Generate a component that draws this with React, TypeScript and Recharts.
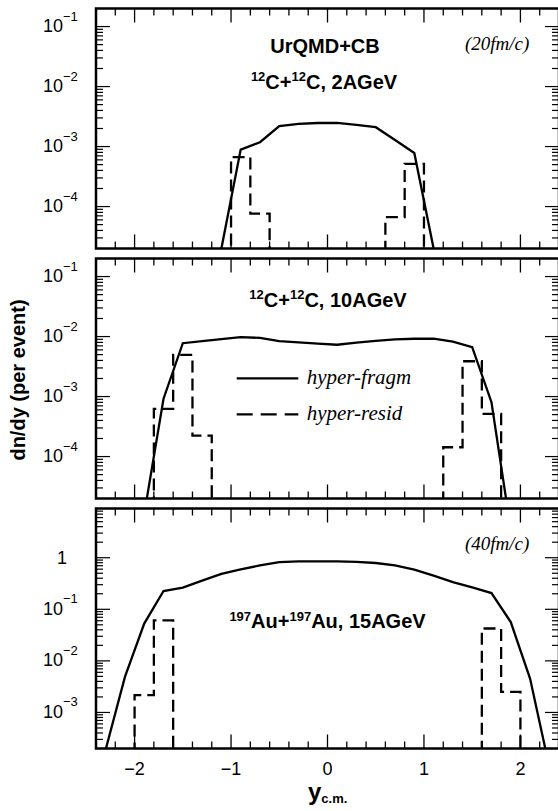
import React from 'react';
import { ComposedChart, Line, XAxis, YAxis } from 'recharts';

// ---------- data ----------
// rapidity bin centres (solid curves) and bin edges (dashed histograms)
const binCenters = [-2.3, -2.1, -1.9, -1.7, -1.5, -1.3, -1.1, -0.9, -0.7, -0.5, -0.3, -0.1, 0.1, 0.3, 0.5, 0.7, 0.9, 1.1, 1.3, 1.5, 1.7, 1.9, 2.1, 2.3];
const binEdges = [-2.4, -2.2, -2.0, -1.8, -1.6, -1.4, -1.2, -1.0, -0.8, -0.6, -0.4, -0.2, 0, 0.2, 0.4, 0.6, 0.8, 1.0, 1.2, 1.4, 1.6, 1.8, 2.0, 2.2, 2.4];

// 12C+12C, 2 AGeV (20 fm/c)
const fragmC2 = [0, 0, 0, 0, 0, 0, 2e-5, 8.9e-4, 1.18e-3, 2.2e-3, 2.39e-3, 2.47e-3, 2.49e-3, 2.29e-3, 2.1e-3, 1.29e-3, 7.8e-4, 2e-5, 0, 0, 0, 0, 0, 0];
const residC2 = [0, 0, 0, 0, 0, 0, 0, 6.65e-4, 7.6e-5, 0, 0, 0, 0, 0, 0, 6.65e-5, 5.15e-4, 0, 0, 0, 0, 0, 0, 0];

// 12C+12C, 10 AGeV
const fragmC10 = [0, 0, 1.1e-5, 9.2e-4, 7.75e-3, 8.4e-3, 9.1e-3, 9.75e-3, 9.5e-3, 8.4e-3, 8.0e-3, 7.6e-3, 7.3e-3, 7.9e-3, 8.5e-3, 9.0e-3, 9.2e-3, 9.2e-3, 8.2e-3, 6.65e-3, 8.05e-4, 6e-6, 0, 0];
const residC10 = [0, 0, 0, 6.25e-4, 4.97e-3, 2.24e-4, 0, 0, 0, 0, 0, 0, 0, 0, 0, 0, 0, 0, 1.43e-4, 3.88e-3, 5.16e-4, 0, 0, 0];

// 197Au+197Au, 15 AGeV (40 fm/c)
const fragmAu15 = [1.9e-4, 4.9e-3, 0.0528, 0.226, 0.263, 0.36, 0.486, 0.594, 0.71, 0.82, 0.85, 0.85, 0.85, 0.83, 0.79, 0.71, 0.59, 0.45, 0.337, 0.266, 0.206, 0.0567, 4.55e-3, 8.7e-5];
const residAu15 = [0, 0, 2.16e-3, 0.061, 0, 0, 0, 0, 0, 0, 0, 0, 0, 0, 0, 0, 0, 0, 0, 0, 0.0424, 2.5e-3, 0, 0];

// axis ticks
const xTicks = [-2.2, -2.0, -1.8, -1.6, -1.4, -1.2, -1.0, -0.8, -0.6, -0.4, -0.2, 0, 0.2, 0.4, 0.6, 0.8, 1.0, 1.2, 1.4, 1.6, 1.8, 2.0, 2.2];
const decadesC = [1e-5, 1e-4, 1e-3, 1e-2, 1e-1];
const decadesAu = [1e-4, 1e-3, 1e-2, 1e-1, 1];
const minorMultipliers = [1, 2, 3, 4, 5, 6, 7, 8, 9];
const domainC: [number, number] = [2e-5, 0.2];
const domainAu: [number, number] = [2e-4, 9];

// ---------- layout ----------
const FLOOR = 1e-9;
const CHART_W = 560;
const PLOT_TOP = 8.5;
const PLOT_H = 240;
const PLOT_L = 96;
const PLOT_R = 559;
const SANS = "'Liberation Sans', Arial, Helvetica, sans-serif";
const SERIF = "'Liberation Serif', 'Times New Roman', Times, serif";

function buildTicks(decades: number[], domain: [number, number]) {
  const out: number[] = [];
  decades.forEach((d) => {
    minorMultipliers.forEach((m) => {
      const v = m * d;
      if (v > domain[0] * 1.0001 && v < domain[1] * 0.9999) out.push(v);
    });
  });
  return out;
}

const isDecade = (v: number) => Math.abs(Math.log10(v) - Math.round(Math.log10(v))) < 1e-6;

function XTick(props: any) {
  const { x, payload, showLabel } = props;
  const v = payload.value;
  const major = Math.abs(v - Math.round(v)) < 1e-6;
  const len = major ? 14 : 7;
  const bottom = PLOT_TOP + PLOT_H;
  const label = v < 0 ? '\u2212' + Math.abs(Math.round(v)) : String(Math.round(v));
  return (
    <g>
      <line x1={x} x2={x} y1={bottom} y2={bottom - len} stroke="#000" strokeWidth={1.3} />
      <line x1={x} x2={x} y1={PLOT_TOP} y2={PLOT_TOP + len} stroke="#000" strokeWidth={1.3} />
      {showLabel && major ? (
        <text x={x} y={bottom + 26} textAnchor="middle" fontFamily={SANS} fontSize={18} fill="#000">
          {label}
        </text>
      ) : null}
    </g>
  );
}

function YTick(props: any) {
  const { y, payload } = props;
  const v = payload.value;
  const major = isDecade(v);
  const len = major ? 14 : 7;
  const e = Math.round(Math.log10(v));
  return (
    <g>
      <line x1={PLOT_L} x2={PLOT_L + len} y1={y} y2={y} stroke="#000" strokeWidth={1.2} />
      <line x1={PLOT_R} x2={PLOT_R - len} y1={y} y2={y} stroke="#000" strokeWidth={1.2} />
      {major ? (
        e === 0 ? (
          <text x={62} y={y + 6} textAnchor="middle" fontFamily={SANS} fontSize={18} fill="#000">1</text>
        ) : (
          <text x={43} y={y + 5.5} fontFamily={SANS} fontSize={18} fill="#000">
            10
            <tspan fontSize={13} dy={-11.5}>{'\u2212' + Math.abs(e)}</tspan>
          </text>
        )
      ) : null}
    </g>
  );
}

function Panel(props: {
  top: number;
  height: number;
  fragm: number[];
  resid: number[];
  domain: [number, number];
  decades: number[];
  showXLabels: boolean;
}) {
  const { top, height, fragm, resid, domain, decades, showXLabels } = props;
  const lineData = binCenters.map((x, i) => ({ x, y: fragm[i] > 0 ? fragm[i] : FLOOR }));
  const histData = binEdges.map((x, i) => ({ x, y: i < resid.length && resid[i] > 0 ? resid[i] : FLOOR }));
  const xAxisH = showXLabels ? 60 : 1;
  const bottomMargin = height - PLOT_TOP - PLOT_H - xAxisH;
  const yTicks = buildTicks(decades, domain);
  return (
    <div style={{ position: 'absolute', left: 0, top, width: CHART_W, height }}>
      <ComposedChart
        width={CHART_W}
        height={height}
        margin={{ top: PLOT_TOP, right: CHART_W - PLOT_R, bottom: bottomMargin, left: 0 }}
      >
        <XAxis
          type="number"
          dataKey="x"
          domain={[-2.4, 2.4]}
          allowDataOverflow
          ticks={xTicks}
          interval={0}
          tickLine={false}
          axisLine={false}
          tickSize={0}
          height={xAxisH}
          tick={(p: any) => <XTick {...p} showLabel={showXLabels} />}
        />
        <YAxis
          type="number"
          scale="log"
          domain={domain}
          allowDataOverflow
          ticks={yTicks}
          interval={0}
          width={PLOT_L}
          tickLine={false}
          axisLine={false}
          tickSize={0}
          tick={(p: any) => <YTick {...p} />}
        />
        <Line
          data={lineData}
          dataKey="y"
          type="linear"
          stroke="#000"
          strokeWidth={2.3}
          dot={false}
          activeDot={false}
          isAnimationActive={false}
        />
        <Line
          data={histData}
          dataKey="y"
          type="stepAfter"
          stroke="#000"
          strokeWidth={2.3}
          strokeDasharray="12 6"
          dot={false}
          activeDot={false}
          isAnimationActive={false}
        />
      </ComposedChart>
    </div>
  );
}

function Overlay() {
  const frames = [0, 250, 500];
  return (
    <svg
      width={558}
      height={811}
      style={{ position: 'absolute', left: 0, top: 0, pointerEvents: 'none' }}
    >
      {frames.map((t) => (
        <rect
          key={t}
          x={PLOT_L}
          y={t + PLOT_TOP}
          width={PLOT_R - PLOT_L}
          height={PLOT_H}
          fill="none"
          stroke="#000"
          strokeWidth={2.5}
        />
      ))}
      {/* top panel */}
      <text x={325} y={53} textAnchor="middle" fontFamily={SANS} fontWeight="bold" fontSize={20}>UrQMD+CB</text>
      <text x={324} y={88.5} textAnchor="middle" fontFamily={SANS} fontWeight="bold" fontSize={20}>
        <tspan fontSize={13} dy={-7.5}>12</tspan>
        <tspan dy={7.5}>C+</tspan>
        <tspan fontSize={13} dy={-7.5}>12</tspan>
        <tspan dy={7.5}>C, 2AGeV</tspan>
      </text>
      <text x={465} y={50} fontFamily={SERIF} fontStyle="italic" fontSize={19}>(20fm/c)</text>

      {/* middle panel */}
      <text x={328} y={306.7} textAnchor="middle" fontFamily={SANS} fontWeight="bold" fontSize={20}>
        <tspan fontSize={13} dy={-7.5}>12</tspan>
        <tspan dy={7.5}>C+</tspan>
        <tspan fontSize={13} dy={-7.5}>12</tspan>
        <tspan dy={7.5}>C, 10AGeV</tspan>
      </text>
      <line x1={236.7} x2={298.3} y1={378.3} y2={378.3} stroke="#000" strokeWidth={2.3} />
      <text x={306.7} y={383.5} fontFamily={SERIF} fontStyle="italic" fontSize={21}>hyper-fragm</text>
      <line x1={236.7} x2={298.3} y1={414.3} y2={414.3} stroke="#000" strokeWidth={2.3} strokeDasharray="16 8" />
      <text x={306.7} y={419.5} fontFamily={SERIF} fontStyle="italic" fontSize={21}>hyper-resid</text>

      {/* bottom panel */}
      <text x={465} y={549.5} fontFamily={SERIF} fontStyle="italic" fontSize={19}>(40fm/c)</text>
      <text x={327.5} y={628} textAnchor="middle" fontFamily={SANS} fontWeight="bold" fontSize={20}>
        <tspan fontSize={13} dy={-7.5}>197</tspan>
        <tspan dy={7.5}>Au+</tspan>
        <tspan fontSize={13} dy={-7.5}>197</tspan>
        <tspan dy={7.5}>Au, 15AGeV</tspan>
      </text>

      {/* axis titles */}
      <text
        x={25}
        y={380}
        transform="rotate(-90 25 380)"
        textAnchor="middle"
        fontFamily={SANS}
        fontWeight="bold"
        fontSize={20}
      >
        dn/dy (per event)
      </text>
      <text x={308} y={800} fontFamily={SANS} fontWeight="bold" fontSize={24}>
        y<tspan fontSize={13} dy={3}>c.m.</tspan>
      </text>
    </svg>
  );
}

export default function App() {
  return (
    <div
      style={{
        position: 'absolute',
        left: 0,
        top: 0,
        width: 558,
        height: 811,
        overflow: 'hidden',
        background: '#fff',
      }}
    >
      <Panel top={0} height={250} fragm={fragmC2} resid={residC2} domain={domainC} decades={decadesC} showXLabels={false} />
      <Panel top={250} height={250} fragm={fragmC10} resid={residC10} domain={domainC} decades={decadesC} showXLabels={false} />
      <Panel top={500} height={311} fragm={fragmAu15} resid={residAu15} domain={domainAu} decades={decadesAu} showXLabels={true} />
      <Overlay />
    </div>
  );
}
